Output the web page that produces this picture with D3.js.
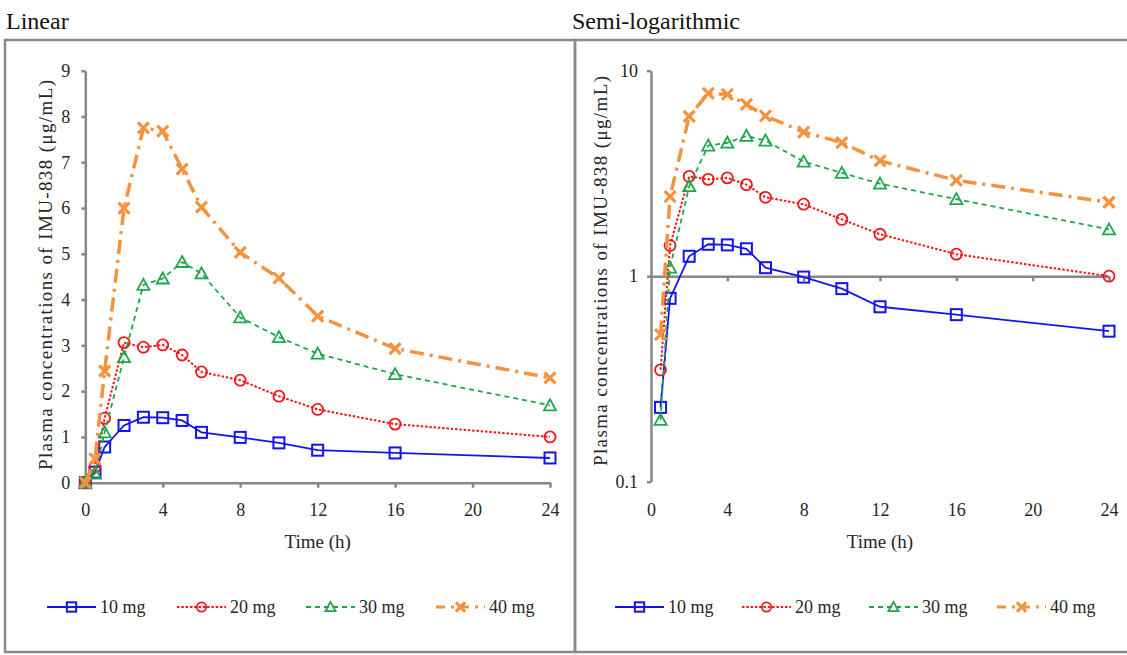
<!DOCTYPE html>
<html><head><meta charset="utf-8">
<script src="https://cdn.jsdelivr.net/npm/d3@7"></script>
<style>
body{margin:0;background:#fff;}
svg{display:block;}
</style></head>
<body><svg id="c" width="1127" height="655"></svg>
<script>
// ---- data ----
const times = [0, 0.5, 1, 2, 3, 4, 5, 6, 8, 10, 12, 16, 24];
const conc10 = [0, 0.23, 0.78, 1.25, 1.43, 1.42, 1.36, 1.10, 0.99, 0.87, 0.71, 0.65, 0.54];
const conc20 = [0, 0.35, 1.41, 3.06, 2.96, 3.01, 2.79, 2.42, 2.24, 1.89, 1.60, 1.28, 1.00];
const conc30 = [0, 0.20, 1.10, 2.74, 4.32, 4.46, 4.82, 4.57, 3.61, 3.18, 2.82, 2.37, 1.69];
const conc40 = [0, 0.52, 2.44, 6.00, 7.75, 7.68, 6.85, 6.02, 5.03, 4.47, 3.64, 2.93, 2.29];
const seriesNames = ["10 mg", "20 mg", "30 mg", "40 mg"];
const xTicks = [0, 4, 8, 12, 16, 20, 24];
const linTicks = [0, 1, 2, 3, 4, 5, 6, 7, 8, 9];
const logTicks = [0.1, 1, 10];
const panelTitles = ["Linear", "Semi-logarithmic"];
const yTitle = "Plasma concentrations of IMU-838 (\u03bcg/mL)";
const xTitle = "Time (h)";

const FONT = "Liberation Serif, Times New Roman, Times, DejaVu Serif, serif";

// ---- styles ----
const styles = [
  {color:"#1414f0", dash:null, width:1.8, marker:"square"},
  {color:"#f01818", dash:"2.5,1.8", width:2, marker:"circle"},
  {color:"#1ca84a", dash:"5,4", width:1.8, marker:"triangle"},
  {color:"#f5923e", dash:"14,6,3,6", width:3.5, marker:"x"}
];
const allSeries = [conc10, conc20, conc30, conc40];
const axisColor = "#878787";
const textColor = "#262626";

const svg = d3.select("#c").attr("font-family", FONT);

// frames
svg.append("rect").attr("x",5).attr("y",40).attr("width",570).attr("height",612)
  .attr("fill","none").attr("stroke","#8a8a8a").attr("stroke-width",2.5);
svg.append("rect").attr("x",575).attr("y",40).attr("width",570).attr("height",612)
  .attr("fill","none").attr("stroke","#8a8a8a").attr("stroke-width",2.5);

// titles
svg.append("text").attr("x",6).attr("y",29).attr("font-size",24).attr("font-family",FONT).attr("fill","#111").text(panelTitles[0]);
svg.append("text").attr("x",572).attr("y",29).attr("font-size",24).attr("font-family",FONT).attr("fill","#111").text(panelTitles[1]);

function drawMarker(g, type, x, y, color, s) {
  s = s || 1;
  if (type === "square") {
    g.append("rect").attr("x",x-5.5*s).attr("y",y-5.5*s).attr("width",11*s).attr("height",11*s)
      .attr("fill","none").attr("stroke",color).attr("stroke-width",2);
  } else if (type === "circle") {
    g.append("circle").attr("cx",x).attr("cy",y).attr("r",5.5*s)
      .attr("fill","none").attr("stroke",color).attr("stroke-width",1.8);
  } else if (type === "triangle") {
    const h = 11*s;
    g.append("path").attr("d",`M${x},${y-h*0.55}L${x+h*0.55},${y+h*0.45}L${x-h*0.55},${y+h*0.45}Z`)
      .attr("fill","none").attr("stroke",color).attr("stroke-width",1.8);
  } else {
    const r = 5.5*s;
    g.append("path").attr("d",`M${x-r},${y-r}L${x+r},${y+r}M${x-r},${y+r}L${x+r},${y-r}`)
      .attr("fill","none").attr("stroke",color).attr("stroke-width",3.2);
  }
}

function styleAxis(g) {
  g.attr("font-family", FONT);
  g.select(".domain").attr("stroke",axisColor).attr("stroke-width",2.5);
  g.selectAll(".tick line").attr("stroke",axisColor).attr("stroke-width",2.5);
  g.selectAll(".tick text").attr("fill",textColor).attr("font-size",18).attr("font-family",FONT);
}

function panel(opts) {
  const g = svg.append("g");
  const x = d3.scaleLinear().domain([0,24]).range(opts.xRange);
  const y = opts.log ? d3.scaleLog().domain([0.1,10]).range(opts.yRange)
                     : d3.scaleLinear().domain([0,9]).range(opts.yRange);
  // y axis
  const ya = d3.axisLeft(y).tickValues(opts.log ? logTicks : linTicks)
    .tickFormat(d => String(d)).tickSize(4).tickSizeOuter(0).tickPadding(opts.log ? 9 : 11);
  const yg = g.append("g").attr("transform",`translate(${opts.xRange[0]},0)`).call(ya);
  styleAxis(yg);
  // x axis line + ticks
  const xLineY = opts.log ? y(1) : y(0);
  const xa = d3.axisBottom(x).tickValues(xTicks).tickSize(5).tickSizeOuter(0).tickFormat("");
  const xg = g.append("g").attr("transform",`translate(0,${xLineY})`).call(xa);
  styleAxis(xg);
  if (opts.log) xg.selectAll(".tick").filter(d => d === 0).remove();
  // x labels
  const xl = d3.axisBottom(x).tickValues(xTicks).tickSize(0).tickPadding(0).tickFormat(d => String(d));
  const xlg = g.append("g").attr("transform",`translate(0,${opts.xLabelY - 6.5})`).call(xl);
  xlg.select(".domain").remove();
  styleAxis(xlg);
  // axis titles
  g.append("text").attr("x",(opts.xRange[0]+opts.xRange[1])/2).attr("y",548)
    .attr("text-anchor","middle").attr("font-size",19).attr("font-family",FONT).attr("fill",textColor).text(xTitle);
  g.append("text").attr("transform",`translate(${opts.yTitleX},${opts.yTitleY}) rotate(-90)`)
    .attr("text-anchor","middle").attr("font-size",19).attr("font-family",FONT).attr("fill",textColor)
    .attr("textLength",390).attr("lengthAdjust","spacing").text(yTitle);
  // series
  allSeries.forEach((vals, i) => {
    const st = styles[i];
    const pts = times.map((t, k) => [t, vals[k]]).filter(p => !opts.log || p[1] > 0);
    const line = d3.line().x(p => x(p[0])).y(p => y(p[1]));
    g.append("path").attr("d", line(pts)).attr("fill","none").attr("stroke",st.color)
      .attr("stroke-width",st.width).attr("stroke-dasharray",st.dash);
    pts.forEach(p => drawMarker(g, st.marker, x(p[0]), y(p[1]), st.color));
  });
  // legend
  opts.legendX.forEach((lx, i) => {
    const st = styles[i];
    const ly = 607;
    g.append("line").attr("x1",lx).attr("x2",lx+49).attr("y1",ly).attr("y2",ly)
      .attr("stroke",st.color).attr("stroke-width",i===3 ? 3 : 2.2)
      .attr("stroke-dasharray", i===3 ? "9,6,3,6" : st.dash);
    drawMarker(g, st.marker, lx+24.5, ly, st.color, 0.85);
    g.append("text").attr("x",lx+53).attr("y",ly+6).attr("font-size",18).attr("font-family",FONT).attr("fill",textColor)
      .text(seriesNames[i]);
  });
}

panel({xRange:[85.3,550], yRange:[482.7,70.7], log:false, xLabelY:510,
       yTitleX:52, yTitleY:275, legendX:[47,177,306,436]});
panel({xRange:[651,1109], yRange:[481.7,70.7], log:true, xLabelY:510,
       yTitleX:607, yTitleY:271, legendX:[615,742,869,997]});
</script></body></html>
